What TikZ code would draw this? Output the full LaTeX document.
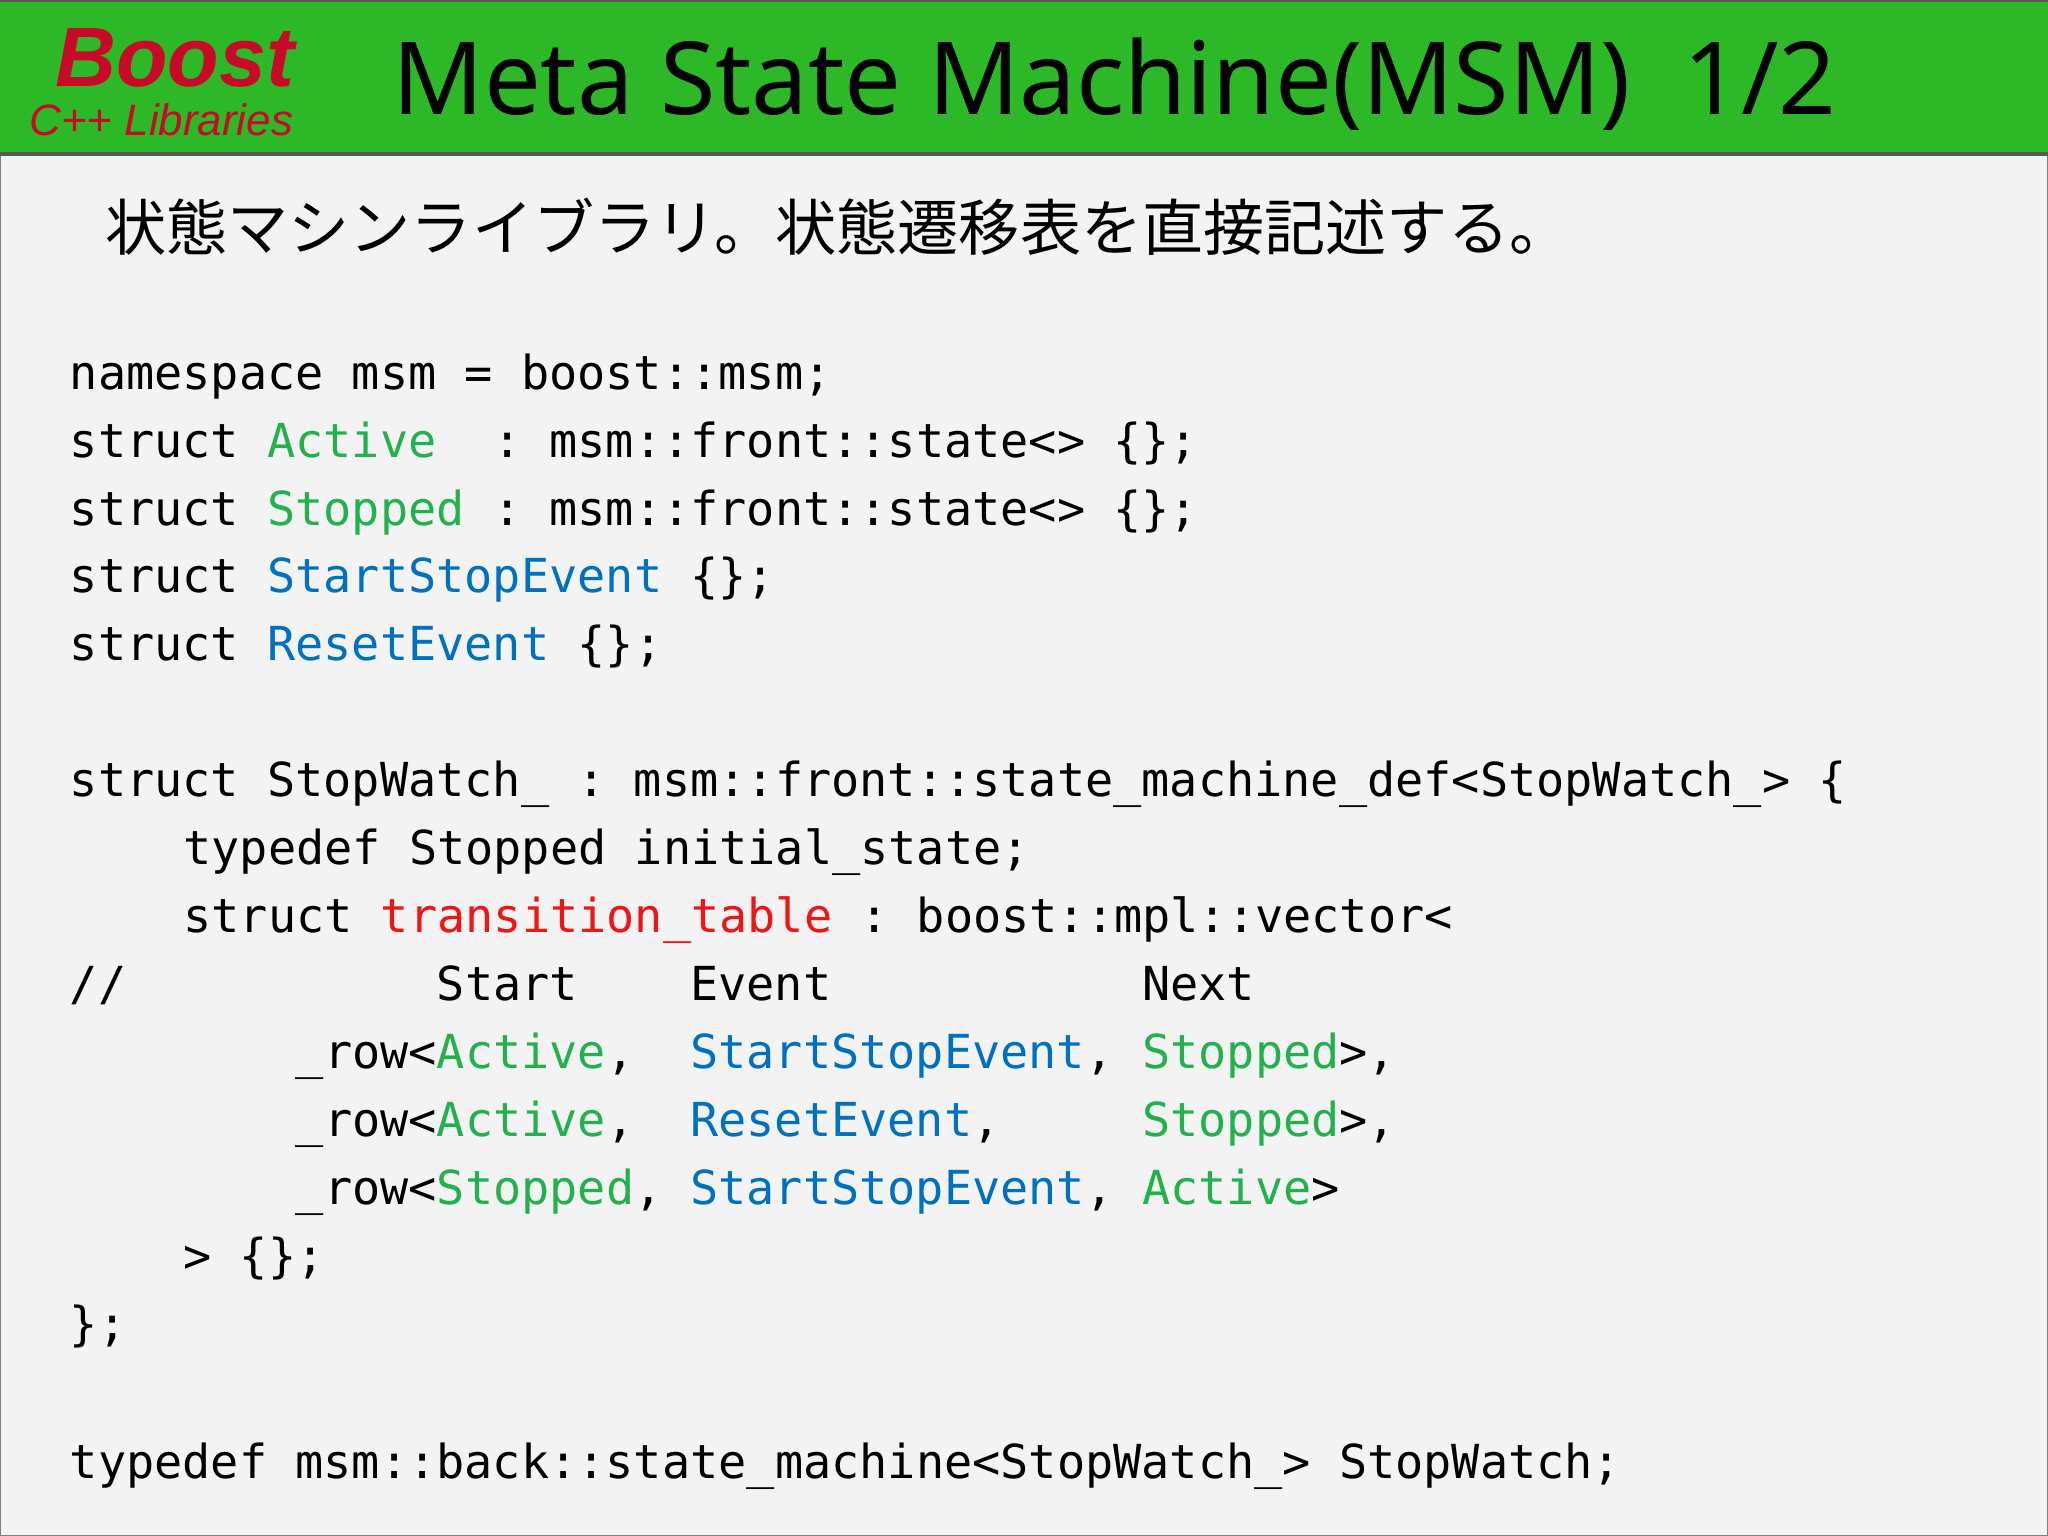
\documentclass[tikz,border=0pt]{standalone}
\usepackage{fontspec}
\setmainfont{Noto Sans}
\setmonofont{DejaVu Sans Mono}
\newfontfamily\cjk{Noto Sans CJK JP}
\newfontfamily\logofont{Liberation Sans}
\definecolor{hdr}{RGB}{45,184,40}
\definecolor{bg}{RGB}{243,243,243}
\definecolor{cgreen}{RGB}{34,177,76}
\definecolor{cblue}{RGB}{0,112,192}
\definecolor{cred}{RGB}{240,20,20}
\definecolor{logored}{RGB}{200,10,40}
\newcommand{\G}[1]{\textcolor{cgreen}{#1}}
\newcommand{\B}[1]{\textcolor{cblue}{#1}}
\newcommand{\R}[1]{\textcolor{cred}{#1}}
\begin{document}
\begin{tikzpicture}[x=0.01306cm,y=-0.01306cm,
  code/.style={anchor=base west,inner sep=0pt,font=\fontsize{13.33}{14}\ttfamily}]
\useasboundingbox (0,0) rectangle (1568,1176);
\fill[bg,draw=gray] (0.5,0.5) rectangle (1567.5,1175.5);
\fill[hdr] (0,0) rectangle (1568,118);
\draw[gray!70!black,line width=1.2pt] (0,118) -- (1568,118);
\draw[gray!70!black,line width=1pt] (0,0.5) -- (1568,0.5);
\node[anchor=base west,inner sep=0pt,font=\logofont\bfseries\itshape\fontsize{24}{24}\selectfont,text=logored] (boost) at (42,66) {Boost};
\node[anchor=base west,inner sep=0pt,font=\logofont\itshape\fontsize{12.5}{13}\selectfont,text=logored] (libs) at (22,104) {C++ Libraries};
\node[anchor=base west,inner sep=0pt,font=\fontsize{28.7}{29}\selectfont] (title) at (300,88) {Meta State Machine(MSM)\ \ 1/2};
\node[anchor=base west,inner sep=0pt,font=\cjk\fontsize{17.4}{18}\selectfont] (sub) at (80,192) {状態マシンライブラリ。状態遷移表を直接記述する。};
\node[code] (l1) at (53,298) {namespace msm = boost::msm;};
\node[code] (l2) at (53,350) {struct \G{Active}\ \ : msm::front::state<> \{\};};
\node[code] (l3) at (53,402) {struct \G{Stopped} : msm::front::state<> \{\};};
\node[code] (l4) at (53,454) {struct \B{StartStopEvent} \{\};};
\node[code] (l5) at (53,506) {struct \B{ResetEvent} \{\};};
\node[code] (l6) at (53,610) {struct StopWatch\_ : msm::front::state\_machine\_def<StopWatch\_> \{};
\node[code] (l7) at (140,662) {typedef Stopped initial\_state;};
\node[code] (l8) at (140,714) {struct \R{transition\_table} : boost::mpl::vector<};
\node[code] (l9a) at (53,766) {//};
\node[code] (l9b) at (334,766) {Start};
\node[code] (l9c) at (528,766) {Event};
\node[code] (l9d) at (874,766) {Next};
\node[code] (r1a) at (226,818) {\_row<\G{Active},};
\node[code] (r1b) at (528,818) {\B{StartStopEvent},};
\node[code] (r1c) at (874,818) {\G{Stopped}>,};
\node[code] (r2a) at (226,870) {\_row<\G{Active},};
\node[code] (r2b) at (528,870) {\B{ResetEvent},};
\node[code] (r2c) at (874,870) {\G{Stopped}>,};
\node[code] (r3a) at (226,922) {\_row<\G{Stopped},};
\node[code] (r3b) at (528,922) {\B{StartStopEvent},};
\node[code] (r3c) at (874,922) {\G{Active}>};
\node[code] (l13) at (140,974) {> \{\};};
\node[code] (l14) at (53,1026) {\};};
\node[code] (l15) at (53,1132) {typedef msm::back::state\_machine<StopWatch\_> StopWatch;};
\end{tikzpicture}
\end{document}
